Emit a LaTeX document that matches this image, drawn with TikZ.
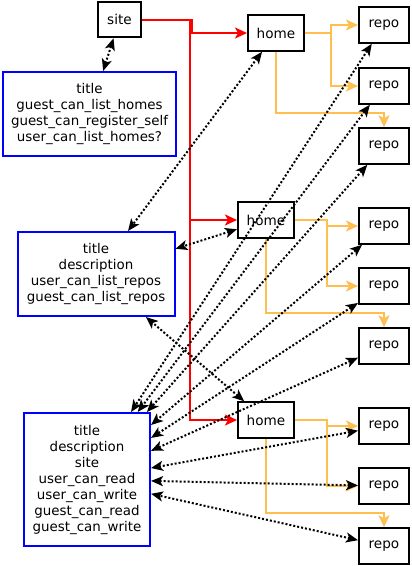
\documentclass[tikz,border=0pt]{standalone}
\usepackage{fontspec}
\setmainfont{DejaVu Sans}
\usetikzlibrary{arrows.meta}
\definecolor{ctrlred}{RGB}{255,0,0}
\definecolor{linkorange}{RGB}{255,191,80}
\definecolor{attrblue}{RGB}{0,0,255}

\begin{document}
\begin{tikzpicture}[x=1pt, y=-1pt,
  entity/.style={draw=black, line width=2pt, minimum height=35.5pt, inner sep=0pt, font=\fontsize{13.6}{16}\selectfont},
  attrs/.style={draw=attrblue, line width=2pt, align=center, inner sep=0pt, font=\fontsize{13.4}{16}\selectfont},
  owns/.style={line width=2pt, color=ctrlred, -{Stealth[length=12pt, width=11pt, inset=3pt]}},
  holds/.style={line width=2pt, color=linkorange, -{Stealth[length=12pt, width=11pt, inset=3pt]}},
  datalink/.style={line width=2pt, dash pattern=on 2pt off 2pt, {Stealth[length=12pt, width=10pt, inset=3pt]}-{Stealth[length=12pt, width=10pt, inset=3pt]}},
]
  \useasboundingbox (0,0) rectangle (412,566);

  % site, homes, repos
  \node[entity, minimum width=43.5pt] (site) at (119.5,19.5) {site};
  \node[entity, minimum width=56pt] (home1) at (276,33) {home};
  \node[entity, minimum width=56pt] (home2) at (266,220) {home};
  \node[entity, minimum width=56pt] (home3) at (266,420) {home};
  \foreach \i/\y in {1/25,2/86,3/146,4/226,5/286,6/346,7/426,8/486,9/546}
    \node[entity, minimum width=50pt] (repo\i) at (384,\y) {repo};

  % attribute boxes
  \node[attrs, minimum width=173pt, minimum height=84pt] (siteattrs) at (89.5,114)
    {title\\guest\_can\_list\_homes\\guest\_can\_register\_self\\user\_can\_list\_homes?};
  \node[attrs, minimum width=157pt, minimum height=84pt] (homeattrs) at (96,274)
    {title\\description\\user\_can\_list\_repos\\guest\_can\_list\_repos};
  \node[attrs, minimum width=126pt, minimum height=133pt] (repoattrs) at (87,479.5)
    {title\\description\\site\\user\_can\_read\\user\_can\_write\\guest\_can\_read\\guest\_can\_write};

  % site owns homes
  \draw[owns] (site.east) -- ++(50,0) |- (home1.west);
  \draw[owns] (site.east) -- ++(48,0) |- (home2.west);
  \draw[owns] (site.east) -- ++(48,0) |- (home3.west);

  % homes hold repos
  \foreach \h/\a/\b/\c/\off in {1/1/2/3/26, 2/4/5/6/32, 3/7/8/9/32} {
    \draw[holds] (home\h.east) -- ++(\off,0) |- (repo\a.west);
    \draw[holds] (home\h.east) -- ++(\off,0) |- (repo\b.west);
    \draw[holds] (home\h.south) |- ([yshift=14pt]repo\c.north) -- (repo\c.north);
  }

  % data links
  \draw[datalink] (site) -- (siteattrs);
  \foreach \h in {1,2,3}
    \draw[datalink] (home\h) -- (homeattrs);
  \foreach \i in {1,...,9}
    \draw[datalink] (repo\i) -- (repoattrs);
\end{tikzpicture}
\end{document}
